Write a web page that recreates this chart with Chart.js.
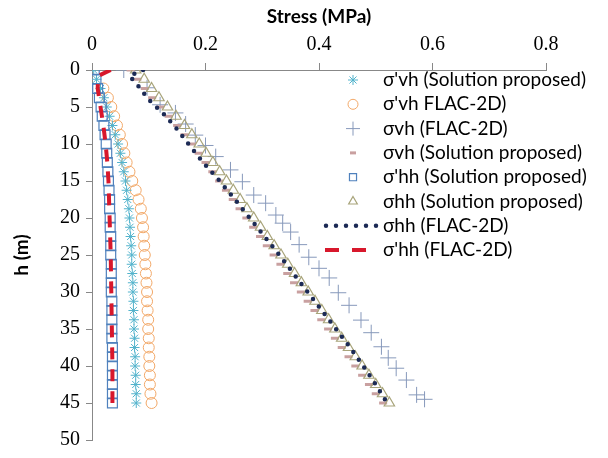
<!DOCTYPE html>
<html>
<head>
<meta charset="utf-8">
<script src="https://cdn.jsdelivr.net/npm/chart.js@4.4.1/dist/chart.umd.min.js"></script>
<style>
  html, body { margin: 0; padding: 0; background: #ffffff; }
  #wrap { width: 608px; height: 458px; position: relative; }
</style>
</head>
<body>
<div id="wrap"><canvas id="c" width="608" height="458"></canvas></div>
<script>
// ---- Data ----
const xTicks = [0, 0.2, 0.4, 0.6, 0.8];
const yTicks = [0, 5, 10, 15, 20, 25, 30, 35, 40, 45, 50];

// depth grid of the analytic solution / FLAC nodes (m)
const hSol = [0, 1.25, 2.5, 3.75, 5, 6.25, 7.5, 8.75, 10, 11.25, 12.5, 13.75, 15, 16.25, 17.5, 18.75, 20, 21.25, 22.5, 23.75, 25, 26.25, 27.5, 28.75, 30, 31.25, 32.5, 33.75, 35, 36.25, 37.5, 38.75, 40, 41.25, 42.5, 43.75, 45];

// σ'vh (Solution proposed)
const sEffVhSol = [0.003, 0.008, 0.015, 0.021, 0.026, 0.031, 0.036, 0.041, 0.046, 0.050, 0.053, 0.056, 0.059, 0.061, 0.063, 0.065, 0.066, 0.067, 0.068, 0.069, 0.070, 0.070, 0.071, 0.072, 0.072, 0.073, 0.073, 0.074, 0.074, 0.075, 0.075, 0.076, 0.076, 0.077, 0.077, 0.078, 0.078];

// σ'vh FLAC-2D
const hEffVhFlac = [2.5, 3.75, 5, 6.25, 7.5, 8.75, 10, 11.25, 12.5, 13.75, 15, 16.25, 17.5, 18.75, 20, 21.25, 22.5, 23.75, 25, 26.25, 27.5, 28.75, 30, 31.25, 32.5, 33.75, 35, 36.25, 37.5, 38.75, 40, 41.25, 42.5, 43.75, 45];
const sEffVhFlac = [0.020, 0.028, 0.034, 0.039, 0.044, 0.049, 0.053, 0.057, 0.061, 0.066, 0.071, 0.077, 0.082, 0.086, 0.088, 0.090, 0.091, 0.092, 0.093, 0.094, 0.095, 0.096, 0.097, 0.097, 0.098, 0.099, 0.099, 0.100, 0.100, 0.101, 0.101, 0.102, 0.102, 0.103, 0.105];

// σvh (FLAC-2D)
const hVhFlac = [0, 2.4, 4.7, 5.8, 7.3, 8.8, 10.2, 11.7, 13.5, 15.1, 16.9, 18.0, 19.6, 20.7, 21.9, 23.6, 25.3, 26.8, 28.1, 30.1, 31.8, 33.8, 35.5, 37.4, 38.9, 40.3, 41.9, 43.9, 44.5];
const sVhFlac = [0.056, 0.097, 0.120, 0.147, 0.165, 0.182, 0.200, 0.218, 0.244, 0.265, 0.285, 0.306, 0.324, 0.336, 0.350, 0.365, 0.382, 0.400, 0.418, 0.434, 0.453, 0.474, 0.492, 0.510, 0.522, 0.536, 0.554, 0.572, 0.586];

// σvh (Solution proposed)
const sVhSol = [0.068, 0.080, 0.093, 0.106, 0.120, 0.135, 0.150, 0.163, 0.176, 0.188, 0.200, 0.212, 0.224, 0.236, 0.248, 0.260, 0.272, 0.284, 0.296, 0.308, 0.320, 0.332, 0.344, 0.356, 0.368, 0.380, 0.392, 0.404, 0.416, 0.428, 0.440, 0.452, 0.464, 0.476, 0.488, 0.500, 0.513];

// σ'hh (Solution proposed)
const sEffHhSol = [0.004, 0.007, 0.010, 0.013, 0.016, 0.018, 0.021, 0.023, 0.025, 0.026, 0.027, 0.028, 0.029, 0.030, 0.031, 0.031, 0.032, 0.032, 0.033, 0.033, 0.033, 0.034, 0.034, 0.034, 0.034, 0.035, 0.035, 0.035, 0.035, 0.035, 0.036, 0.036, 0.036, 0.036, 0.036, 0.036, 0.036];

// σhh (Solution proposed)
const sHhSol = [0.077, 0.092, 0.105, 0.118, 0.133, 0.148, 0.163, 0.176, 0.189, 0.201, 0.213, 0.225, 0.237, 0.249, 0.261, 0.273, 0.285, 0.297, 0.309, 0.321, 0.333, 0.345, 0.357, 0.369, 0.381, 0.393, 0.405, 0.417, 0.428, 0.440, 0.452, 0.464, 0.476, 0.488, 0.500, 0.512, 0.524];

// σhh (FLAC-2D)
const hHhFlac = [0, 0.8, 2, 4, 6, 8, 10, 12.5, 15, 17.5, 20, 22.5, 25, 27.5, 30, 32.5, 35, 37.5, 40, 42.5, 45];
const sHhFlac = [0.090, 0.066, 0.080, 0.100, 0.127, 0.150, 0.170, 0.196, 0.225, 0.252, 0.278, 0.304, 0.330, 0.355, 0.380, 0.405, 0.430, 0.455, 0.478, 0.500, 0.520];

// σ'hh (FLAC-2D)
const hEffHhFlac = [0, 0.8, 2.5, 5, 7.5, 10, 12.5, 15, 20, 25, 30, 35, 40, 45];
const sEffHhFlac = [0.033, 0.011, 0.010, 0.015, 0.020, 0.024, 0.027, 0.029, 0.031, 0.033, 0.034, 0.035, 0.036, 0.036];

const legendLabels = [
  "σ'vh (Solution proposed)",
  "σ'vh FLAC-2D)",
  "σvh (FLAC-2D)",
  "σvh (Solution proposed)",
  "σ'hh (Solution proposed)",
  "σhh (Solution proposed)",
  "σhh (FLAC-2D)",
  "σ'hh (FLAC-2D)"
];

function pts(xs, ys) { return xs.map((v, i) => ({ x: v, y: ys[i] })); }

const datasets = [
  { label: legendLabels[0], data: pts(sEffVhSol, hSol), pointStyle: 'star', pointRadius: 5, borderColor: '#52b3cc', backgroundColor: 'rgba(0,0,0,0)', pointBorderWidth: 1, showLine: false, order: 5 },
  { label: legendLabels[1], data: pts(sEffVhFlac, hEffVhFlac), pointStyle: 'circle', pointRadius: 5.5, borderColor: '#f2a868', backgroundColor: 'rgba(0,0,0,0)', pointBorderWidth: 1, showLine: false, order: 6 },
  { label: legendLabels[2], data: pts(sVhFlac, hVhFlac), pointStyle: 'cross', pointRadius: 8, borderColor: '#8799bb', backgroundColor: 'rgba(0,0,0,0)', pointBorderWidth: 1, showLine: false, order: 7 },
  { label: legendLabels[3], data: pts(sVhSol, hSol), pointStyle: 'line', pointRadius: 4, borderColor: '#c9a0a0', backgroundColor: 'rgba(0,0,0,0)', pointBorderWidth: 3, showLine: false, order: 3 },
  { label: legendLabels[4], data: pts(sEffHhSol, hSol), pointStyle: 'rect', pointRadius: 7, borderColor: '#4f81bd', backgroundColor: 'rgba(0,0,0,0)', pointBorderWidth: 1.2, showLine: false, order: 4 },
  { label: legendLabels[5], data: pts(sHhSol, hSol), pointStyle: 'triangle', pointRadius: 6, borderColor: '#a8a47a', backgroundColor: 'rgba(0,0,0,0)', pointBorderWidth: 1.2, showLine: false, order: 2 },
  { label: legendLabels[6], data: pts(sHhFlac, hHhFlac), showLine: true, pointRadius: 0, borderColor: '#1c2a55', borderWidth: 4.5, borderDash: [0, 9.5], borderCapStyle: 'round', tension: 0, order: 1 },
  { label: legendLabels[7], data: pts(sEffHhFlac, hEffHhFlac), showLine: true, pointRadius: 0, borderColor: '#d8182c', borderWidth: 4, borderDash: [12, 10], borderCapStyle: 'butt', tension: 0, order: 0 }
];

const legendPlugin = {
  id: 'insideLegend',
  afterDraw(chart) {
    const ctx = chart.ctx;
    const mx = 353, tx = 383, y0 = 80, dy = 24.3;
    ctx.save();
    chart.data.datasets.forEach((ds, i) => {
      const y = y0 + i * dy;
      ctx.save();
      if (ds.showLine) {
        ctx.strokeStyle = ds.borderColor;
        ctx.lineWidth = ds.borderWidth;
        ctx.lineCap = ds.borderCapStyle;
        if (i === 6) { ctx.setLineDash([0, 10]); ctx.beginPath(); ctx.moveTo(326, y); ctx.lineTo(377, y); ctx.stroke(); }
        else { ctx.setLineDash([14, 13]); ctx.beginPath(); ctx.moveTo(325, y); ctx.lineTo(368, y); ctx.stroke(); }
      } else {
        ctx.strokeStyle = ds.borderColor;
        ctx.fillStyle = ds.backgroundColor;
        ctx.lineWidth = ds.pointBorderWidth;
        Chart.helpers.drawPoint(ctx, { pointStyle: ds.pointStyle, radius: ds.pointStyle === 'cross' ? 7 : (ds.pointStyle === 'line' ? 3 : 5), rotation: 0, borderWidth: ds.pointBorderWidth }, mx, y);
      }
      ctx.restore();
      ctx.fillStyle = '#000';
      ctx.font = '19px Lato';
      ctx.textAlign = 'left';
      ctx.textBaseline = 'middle';
      ctx.fillText(ds.label, tx, y);
    });
    ctx.restore();
  }
};

new Chart(document.getElementById('c'), {
  type: 'scatter',
  data: { datasets },
  options: {
    responsive: false,
    animation: false,
    devicePixelRatio: 1,
    layout: { padding: { left: 0, top: 0, right: 62, bottom: 18 } },
    plugins: { legend: { display: false }, tooltip: { enabled: false } },
    scales: {
      x: {
        type: 'linear', position: 'top', min: 0, max: 0.8,
        afterBuildTicks: (s) => { s.ticks = xTicks.map(v => ({ value: v })); },
        afterFit: (s) => { s.height = 70; },
        ticks: { font: { family: 'Liberation Serif', size: 20 }, color: '#000', padding: 6, maxRotation: 0,
                 callback: (v) => String(v) },
        grid: { display: true, drawOnChartArea: false, drawTicks: true, tickLength: 7, color: '#888' },
        border: { display: true, color: '#888', width: 1 },
        title: { display: true, text: 'Stress (MPa)', font: { family: 'Lato', size: 19, weight: 'bold' }, color: '#000', padding: { top: 5, bottom: 0 } }
      },
      y: {
        type: 'linear', position: 'left', reverse: true, min: 0, max: 50,
        afterBuildTicks: (s) => { s.ticks = yTicks.map(v => ({ value: v })); },
        afterFit: (s) => { s.width = 92; },
        ticks: { font: { family: 'Liberation Serif', size: 20 }, color: '#000', padding: 6 },
        grid: { display: true, drawOnChartArea: false, drawTicks: true, tickLength: 6, color: '#888' },
        border: { display: true, color: '#888', width: 1 },
        title: { display: true, text: 'h (m)', font: { family: 'Lato', size: 19, weight: 'bold' }, color: '#000', padding: { top: 10, bottom: 0 } }
      }
    }
  },
  plugins: [legendPlugin]
});
</script>
</body>
</html>
